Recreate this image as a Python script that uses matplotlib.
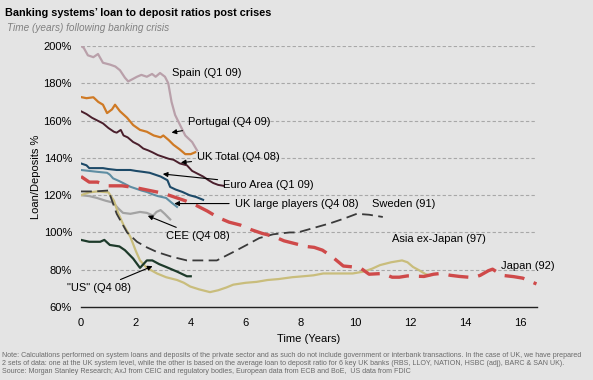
import matplotlib.pyplot as plt

plt.rcParams['font.family'] = ['Liberation Sans', 'DejaVu Sans']

# values (years after crisis, loan/deposit %)
spain_x = [0, 0.1, 0.25, 0.45, 0.62, 0.8, 1.06, 1.25, 1.42, 1.6, 1.72, 1.85, 2.04, 2.2, 2.4, 2.59, 2.72, 2.88, 3.06, 3.18, 3.3, 3.43, 3.61, 3.8, 4.05, 4.23]
spain_y = [200, 199, 195, 194, 195.7, 191, 190, 189, 187, 183, 181, 182, 183.5, 184.5, 183.5, 185, 183.5, 185.5, 183.5, 180, 170, 163, 157.6, 152, 148.5, 144]

portugal_x = [0, 0.2, 0.45, 0.63, 0.8, 0.95, 1.13, 1.24, 1.42, 1.68, 1.9, 2.15, 2.4, 2.65, 2.9, 3.0, 3.2, 3.37, 3.6, 3.8, 4.0, 4.16]
portugal_y = [172.6, 172, 172.5, 170, 168.5, 164, 166, 168.5, 165, 161.5, 157.6, 155, 154, 152, 151, 152, 149.5, 147, 144.5, 142, 142, 143]

uk_total_x = [0, 0.2, 0.4, 0.6, 0.8, 1.0, 1.2, 1.3, 1.45, 1.55, 1.7, 1.9, 2.1, 2.27, 2.45, 2.6, 2.8, 3.0, 3.2, 3.37, 3.6, 3.86, 4.05, 4.25, 4.45, 4.65, 4.82, 5.0, 5.2]
uk_total_y = [165, 163.5, 161.5, 160, 158.5, 156, 154, 153.5, 155, 152, 151, 148.5, 147, 145, 144, 143, 141.5, 140.5, 139.5, 139, 137, 136, 133, 131.5, 130, 128, 126.5, 125.5, 125]

euro_x = [0, 0.2, 0.3, 0.5, 0.8, 1.0, 1.3, 1.6, 1.8, 2.0, 2.26, 2.5, 2.7, 2.9, 3.15, 3.25, 3.45, 3.7, 3.95, 4.2, 4.45]
euro_y = [137, 136, 134.5, 134.5, 134.5, 134, 133.5, 133.5, 133.5, 133, 132.5, 132, 131, 130, 128, 124.4, 123, 121.7, 120, 119, 117.5]

uk_large_x = [0, 0.3, 0.6, 0.95, 1.05, 1.17, 1.4, 1.6, 1.8, 2.0, 2.2, 2.4, 2.6, 2.8, 3.1, 3.3, 3.5]
uk_large_y = [133.5, 133, 132.5, 132, 131, 129, 127.5, 126, 124.5, 123.5, 122.5, 121.7, 120.5, 119.5, 118.5, 116, 113.7]

cee_x = [0, 0.3, 0.58, 0.9, 1.17, 1.35, 1.53, 1.8, 2.15, 2.4, 2.63, 2.75, 2.9, 3.05, 3.25]
cee_y = [120, 119.5, 118.5, 117, 116, 113, 110.5, 110, 111, 110.5, 109, 111, 112, 110, 107]

us_x = [0, 0.3, 0.7, 0.85, 1.05, 1.4, 1.6, 1.9, 2.15, 2.4, 2.6, 2.85, 3.1, 3.5, 3.86, 4.0]
us_y = [96, 95, 95, 96, 93.3, 92.5, 90.5, 86, 81, 85, 85, 83, 81.5, 79, 76.5, 76.5]

sweden_x = [0, 0.5, 1.0, 1.3, 1.68, 2.04, 2.4, 2.77, 3.3, 3.86, 4.4, 4.95, 5.55, 6.0, 6.5, 7.0, 7.6, 7.9, 8.5, 9.1, 9.6, 10.05, 10.5, 11.0]
sweden_y = [122, 122, 122.5, 110, 100, 95, 92, 89.5, 87, 85, 85, 85, 89.5, 93, 97, 99, 100, 100, 102.5, 105, 107.5, 110, 109.5, 108.3]

asia_x = [0, 0.3, 0.6, 1.0, 1.2, 1.35, 1.55, 1.8, 2.0, 2.15, 2.4, 2.77, 3.1, 3.5, 3.75, 3.98, 4.3, 4.7, 5.0, 5.3, 5.55, 6.0, 6.4, 6.8, 7.2, 7.7, 8.1, 8.47, 8.83, 9.3, 9.9, 10.3, 10.6, 10.9, 11.3, 11.7, 11.9, 12.1, 12.35, 12.55, 12.7]
asia_y = [120, 121.5, 122, 121.5, 117, 110.5, 104, 97.6, 90, 85, 81, 78, 76, 74.5, 73, 71, 69.5, 68, 69, 70.5, 72, 73, 73.5, 74.5, 75, 76, 76.5, 77, 78, 78, 78, 79, 80.5, 82.5, 84, 85, 84, 81.5, 79.5, 77.7, 77]

japan_x = [0, 0.3, 0.6, 1.0, 1.5, 2.0, 2.5, 3.0, 3.4, 3.8, 4.2, 4.6, 5.0, 5.4, 5.8, 6.2, 6.6, 7.0, 7.4, 7.8, 8.2, 8.5, 8.8, 9.15, 9.56, 9.85, 10.18, 10.5, 11.0, 11.34, 11.6, 11.9, 12.5, 12.85, 13.1, 13.47, 13.8, 14.3, 14.55, 14.85, 15.0, 15.35, 15.77, 16.1, 16.6]
japan_y = [130, 127, 127, 125, 125, 124, 122.5, 121, 119, 117, 114.5, 111.5, 108, 105.5, 104, 101.5, 99.5, 98, 95.5, 94, 92.5, 92, 90.5, 87, 82, 81.6, 81, 77.6, 78, 76, 76, 76.7, 76.4, 77.6, 78, 77, 76.4, 75.8, 77, 79.5, 80.3, 77, 76.3, 75.5, 72.4]

y_ticks = [60, 80, 100, 120, 140, 160, 180, 200]
x_ticks = [0, 2, 4, 6, 8, 10, 12, 14, 16]

note_text = ("Note: Calculations performed on system loans and deposits of the private sector and as such do not include "
             "government or interbank transactions. In the case of UK, we have prepared\n"
             "2 sets of data: one at the UK system level, while the other is based on the average loan to deposit ratio "
             "for 6 key UK banks (RBS, LLOY, NATION, HSBC (adj), BARC & SAN UK).\n"
             "Source: Morgan Stanley Research; AxJ from CEIC and regulatory bodies, European data from ECB and BoE,  "
             "US data from FDIC")

bg = '#e4e4e4'
fig = plt.figure(figsize=(5.93, 3.8), dpi=100, facecolor=bg)
ax = fig.add_axes([0.1366, 0.192, 0.769, 0.687], facecolor=bg)

for y in y_ticks[1:]:
    ax.axhline(y, color='#a8a8a8', lw=0.8, ls=(0, (3, 2)), zorder=0)

ax.plot(spain_x, spain_y, color='#b9a0aa', lw=1.6)
ax.plot(portugal_x, portugal_y, color='#cf7a25', lw=1.6)
ax.plot(uk_total_x, uk_total_y, color='#4a1f2c', lw=1.4)
ax.plot(euro_x, euro_y, color='#1d4a68', lw=1.5)
ax.plot(uk_large_x, uk_large_y, color='#5f8ea3', lw=1.5)
ax.plot(cee_x, cee_y, color='#a3a3a3', lw=1.6)
ax.plot(asia_x, asia_y, color='#c9bd7c', lw=1.6)
ax.plot(sweden_x, sweden_y, color='#3a3a3a', lw=1.3, ls=(0, (6, 3)))
ax.plot(japan_x, japan_y, color='#cf4a4a', lw=2.4, ls=(0, (6, 3)))
ax.plot(us_x, us_y, color='#1d3a2a', lw=1.6)

fs = 8
arrow = dict(arrowstyle='-|>', color='black', lw=0.8, mutation_scale=7)
ax.text(3.3, 185.5, 'Spain (Q1 09)', fontsize=fs, va='center')
ax.annotate('Portugal (Q4 09)', xy=(3.2, 153.3), xytext=(3.9, 159), fontsize=fs, va='center', arrowprops=arrow)
ax.annotate('UK Total (Q4 08)', xy=(3.54, 137.3), xytext=(4.23, 140.5), fontsize=fs, va='center', arrowprops=arrow)
ax.annotate('Euro Area (Q1 09)', xy=(2.88, 131.5), xytext=(5.18, 125.5), fontsize=fs, va='center', arrowprops=arrow)
ax.annotate('UK large players (Q4 08)', xy=(3.3, 115.5), xytext=(5.6, 115.5), fontsize=fs, va='center', arrowprops=arrow)
ax.text(10.6, 115.5, 'Sweden (91)', fontsize=fs, va='center')
ax.annotate('CEE (Q4 08)', xy=(2.34, 109.5), xytext=(3.1, 98), fontsize=fs, va='center', arrowprops=arrow)
ax.text(11.35, 96.5, 'Asia ex-Japan (97)', fontsize=fs, va='center')
ax.text(15.3, 82, 'Japan (92)', fontsize=fs, va='center')
ax.annotate('"US" (Q4 08)', xy=(2.7, 82.5), xytext=(-0.5, 70), fontsize=fs, va='center', arrowprops=arrow,
            annotation_clip=False)

ax.set_xlim(0, 16.62)
ax.set_ylim(60, 200)
ax.set_yticks(y_ticks)
ax.set_yticklabels([f'{v}%' for v in y_ticks], fontsize=fs)
ax.set_xticks(x_ticks)
ax.set_xticklabels([str(v) for v in x_ticks], fontsize=fs)
ax.tick_params(axis='x', length=0, pad=8)
ax.tick_params(axis='y', length=0, pad=6.5)
for side in ['top', 'right', 'left']:
    ax.spines[side].set_visible(False)
ax.spines['bottom'].set_color('#222222')
ax.spines['bottom'].set_linewidth(1.0)
ax.set_xlabel('Time (Years)', fontsize=fs, labelpad=4)
ax.set_ylabel('Loan/Deposits %', fontsize=fs, labelpad=2)

fig.text(0.008, 0.978, 'Banking systems\u2019 loan to deposit ratios post crises', fontsize=7.8,
         fontweight='bold', va='top')
fig.text(0.011, 0.94, 'Time (years) following banking crisis', fontsize=7.2, style='italic',
         color='#808080', va='top')
fig.text(0.003, 0.043, note_text, fontsize=5.1, color='#6a6a6a', va='center', linespacing=1.2)

fig.savefig('out.png', dpi=100, facecolor=bg)
